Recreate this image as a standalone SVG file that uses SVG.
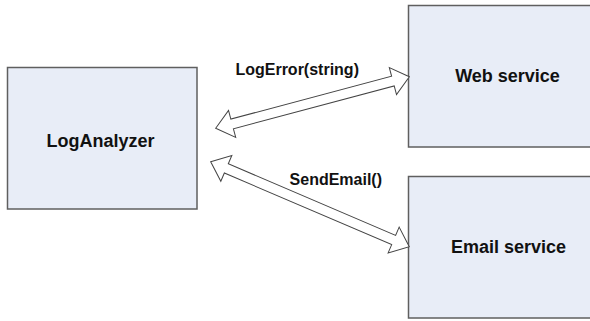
<svg xmlns="http://www.w3.org/2000/svg" width="590" height="321" viewBox="0 0 590 321">
<style>
.box{fill:#e8edf7;stroke:#5f5f5f;stroke-width:1.5}
.lbl{font-family:"Liberation Sans",Arial,sans-serif;font-weight:bold;fill:#111;text-anchor:middle}
.node{font-size:18px}
.edge{font-size:16px}
.arr{fill:#fff;stroke:#444;stroke-width:1;stroke-linejoin:miter}
</style>
<rect width="590" height="321" fill="#fff"/>
<g id="logAnalyzer">
<rect class="box" x="7.5" y="67.5" width="189.5" height="141.5"/>
<text class="lbl node" x="100.5" y="147">LogAnalyzer</text>
</g>
<g id="webService">
<rect class="box" x="408.5" y="5.5" width="190" height="141.5"/>
<text class="lbl node" x="507.5" y="82">Web service</text>
</g>
<g id="emailService">
<rect class="box" x="408.5" y="176.5" width="190" height="141.5"/>
<text class="lbl node" x="508.5" y="252.5">Email service</text>
</g>
<g id="connectors">
<polygon class="arr" transform="translate(215.7,128.3) rotate(-14.92)" points="0,0 17,-14 17,-5 183.4,-5 183.4,-14 200.4,0 183.4,14 183.4,5 17,5 17,14"/>
<polygon class="arr" transform="translate(210.7,161.7) rotate(23.17)" points="0,0 17,-14 17,-5 199,-5 199,-14 216,0 199,14 199,5 17,5 17,14"/>
<text class="lbl edge" x="297.2" y="75">LogError(string)</text>
<text class="lbl edge" x="335.8" y="185">SendEmail()</text>
</g>
</svg>
